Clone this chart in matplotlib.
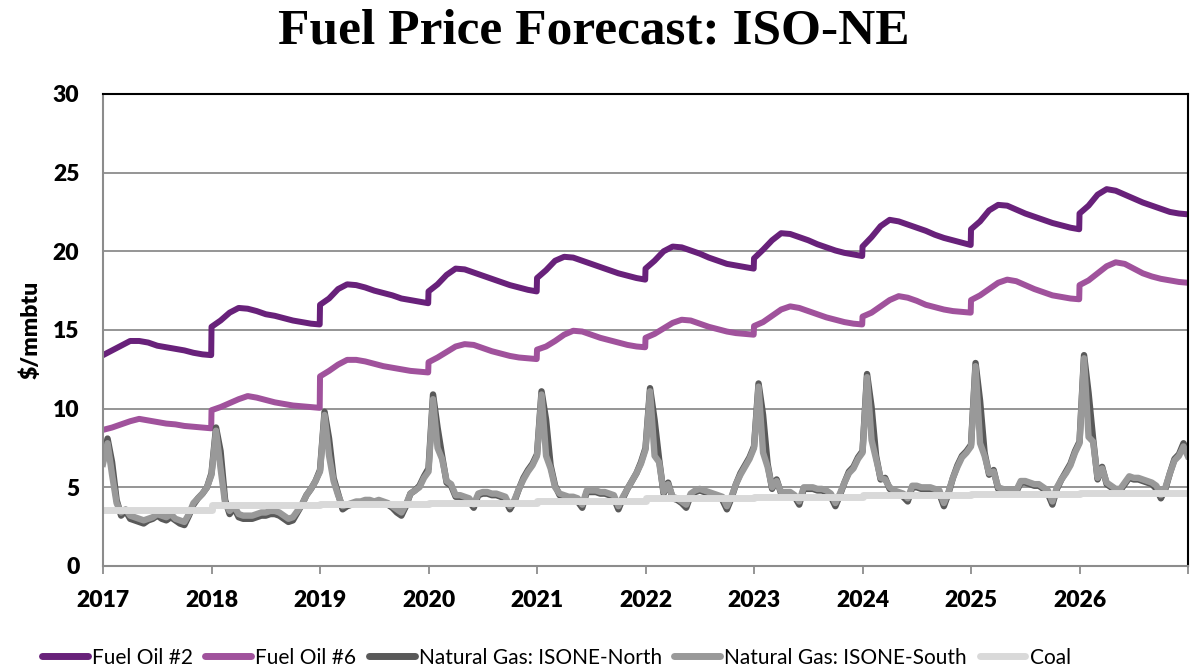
import numpy as np
import matplotlib
matplotlib.use('Agg')
import matplotlib.pyplot as plt

years = list(range(2017, 2027))
series_names = ['Fuel Oil #2', 'Fuel Oil #6', 'Natural Gas: ISONE-North',
                'Natural Gas: ISONE-South', 'Coal']

# fuel oils: monthly values (Jan 1 ... Dec 1) plus a Dec 31 value, one row per year
fuel_oil_2 = [
    13.4, 13.7, 14.0, 14.3, 14.3, 14.2, 14.0, 13.9, 13.8, 13.7, 13.55, 13.45, 13.4,   # 2017
    15.2, 15.6, 16.1, 16.4, 16.35, 16.2, 16.0, 15.9, 15.75, 15.6, 15.5, 15.4, 15.35,  # 2018
    16.6, 17.0, 17.6, 17.9, 17.85, 17.7, 17.5, 17.35, 17.2, 17.0, 16.9, 16.8, 16.7,   # 2019
    17.45, 17.9, 18.5, 18.9, 18.85, 18.65, 18.45, 18.25, 18.05, 17.85, 17.7, 17.55, 17.45,  # 2020
    18.3, 18.8, 19.4, 19.65, 19.6, 19.4, 19.2, 19.0, 18.8, 18.6, 18.45, 18.3, 18.2,   # 2021
    18.9, 19.4, 20.0, 20.3, 20.25, 20.05, 19.85, 19.6, 19.4, 19.2, 19.1, 19.0, 18.9,  # 2022
    19.55, 20.1, 20.7, 21.15, 21.1, 20.9, 20.7, 20.45, 20.25, 20.05, 19.9, 19.8, 19.7,  # 2023
    20.3, 20.9, 21.6, 22.0, 21.9, 21.7, 21.5, 21.3, 21.05, 20.85, 20.7, 20.55, 20.4,  # 2024
    21.4, 21.9, 22.6, 22.95, 22.9, 22.65, 22.4, 22.2, 22.0, 21.8, 21.65, 21.5, 21.4,  # 2025
    22.4, 22.9, 23.6, 23.95, 23.85, 23.6, 23.35, 23.1, 22.9, 22.7, 22.5, 22.4, 22.35,  # 2026
]
fuel_oil_6 = [
    8.65, 8.8, 9.0, 9.2, 9.35, 9.25, 9.15, 9.05, 9.0, 8.9, 8.85, 8.8, 8.75,           # 2017
    9.9, 10.1, 10.35, 10.6, 10.8, 10.7, 10.55, 10.4, 10.3, 10.2, 10.15, 10.1, 10.05,  # 2018
    12.05, 12.4, 12.8, 13.1, 13.1, 13.0, 12.85, 12.7, 12.6, 12.5, 12.4, 12.35, 12.3,  # 2019
    12.95, 13.25, 13.6, 13.95, 14.1, 14.05, 13.85, 13.65, 13.5, 13.35, 13.25, 13.2, 13.15,  # 2020
    13.75, 13.95, 14.3, 14.7, 14.95, 14.9, 14.7, 14.5, 14.35, 14.2, 14.05, 13.95, 13.9,  # 2021
    14.5, 14.75, 15.1, 15.45, 15.65, 15.6, 15.4, 15.2, 15.05, 14.9, 14.8, 14.75, 14.7,  # 2022
    15.25, 15.5, 15.9, 16.3, 16.5, 16.4, 16.2, 16.0, 15.8, 15.65, 15.5, 15.4, 15.35,  # 2023
    15.85, 16.1, 16.5, 16.9, 17.15, 17.05, 16.85, 16.6, 16.45, 16.3, 16.2, 16.15, 16.1,  # 2024
    16.9, 17.2, 17.6, 18.0, 18.2, 18.1, 17.85, 17.6, 17.4, 17.2, 17.1, 17.0, 16.95,   # 2025
    17.85, 18.15, 18.6, 19.05, 19.3, 19.2, 18.9, 18.6, 18.4, 18.25, 18.15, 18.05, 18.0,  # 2026
]

# natural gas: twice a month (1st and 16th), one row per year, last value = end of 2026
gas_north = [
    6.8, 8.1, 6.6, 4.2, 3.2, 3.5, 3.0, 2.9, 2.8, 2.7, 2.9, 3.0, 3.2, 3.0, 2.9, 3.1, 2.9, 2.7, 2.6, 3.2, 3.9, 4.3, 4.6, 5.0,
    5.9, 8.8, 7.3, 4.2, 3.3, 3.7, 3.1, 3.0, 3.0, 3.0, 3.1, 3.2, 3.2, 3.3, 3.3, 3.2, 3.0, 2.8, 2.9, 3.4, 3.9, 4.5, 4.9, 5.4,
    6.1, 9.8, 8.1, 5.6, 4.6, 3.6, 3.8, 3.9, 4.0, 4.0, 4.1, 4.1, 4.0, 4.1, 4.0, 3.9, 3.7, 3.4, 3.2, 3.8, 4.6, 4.8, 5.1, 5.7,
    6.2, 10.9, 8.8, 7.0, 5.3, 5.1, 4.4, 4.4, 4.3, 4.1, 3.7, 4.5, 4.6, 4.6, 4.5, 4.5, 4.4, 4.2, 3.6, 4.1, 4.9, 5.6, 6.1, 6.5,
    7.1, 11.1, 9.3, 6.4, 5.1, 4.5, 4.4, 4.3, 4.3, 4.1, 3.7, 4.7, 4.7, 4.7, 4.6, 4.6, 4.5, 4.3, 3.6, 4.3, 4.9, 5.4, 5.9, 6.6,
    7.5, 11.3, 9.3, 6.8, 4.6, 5.3, 4.3, 4.2, 4.0, 3.7, 4.5, 4.7, 4.8, 4.7, 4.6, 4.5, 4.4, 4.2, 3.6, 4.3, 5.2, 5.9, 6.4, 6.9,
    7.6, 11.6, 9.6, 6.5, 4.9, 5.5, 4.6, 4.6, 4.6, 4.4, 3.9, 4.9, 4.9, 4.9, 4.8, 4.8, 4.7, 4.4, 3.8, 4.5, 5.3, 6.0, 6.3, 6.9,
    7.3, 12.2, 10.1, 7.0, 5.5, 5.6, 4.9, 4.7, 4.6, 4.4, 4.1, 5.0, 5.0, 4.9, 4.9, 4.9, 4.8, 4.6, 3.8, 4.6, 5.6, 6.4, 7.0, 7.3,
    7.7, 12.9, 10.5, 7.2, 5.8, 6.1, 4.9, 4.8, 4.7, 4.7, 4.7, 5.3, 5.3, 5.2, 5.1, 5.1, 4.9, 4.6, 3.9, 4.9, 5.5, 6.0, 6.5, 7.3,
    7.9, 13.4, 11.0, 8.1, 5.5, 6.3, 5.2, 5.0, 4.8, 4.8, 5.2, 5.6, 5.5, 5.5, 5.4, 5.3, 5.2, 4.9, 4.3, 4.9, 5.9, 6.8, 7.1, 7.8,
    7.3,
]
gas_south = [
    6.5, 7.8, 5.8, 4.0, 3.4, 3.6, 3.2, 3.1, 3.0, 2.9, 3.0, 3.1, 3.3, 3.2, 3.1, 3.3, 3.0, 2.9, 2.8, 3.3, 4.0, 4.3, 4.6, 5.0,
    5.8, 8.6, 6.2, 4.0, 3.5, 3.8, 3.3, 3.2, 3.2, 3.2, 3.3, 3.4, 3.4, 3.5, 3.5, 3.4, 3.2, 3.0, 3.1, 3.5, 3.9, 4.5, 4.9, 5.4,
    6.0, 9.6, 7.0, 5.4, 4.5, 3.8, 3.9, 4.0, 4.1, 4.1, 4.2, 4.2, 4.1, 4.2, 4.1, 4.0, 3.8, 3.6, 3.4, 3.9, 4.6, 4.8, 5.0, 5.6,
    6.0, 10.6, 7.5, 6.8, 5.4, 5.2, 4.5, 4.5, 4.4, 4.3, 3.9, 4.6, 4.7, 4.7, 4.6, 4.6, 4.5, 4.4, 3.8, 4.2, 4.9, 5.5, 6.0, 6.4,
    7.0, 10.9, 7.0, 6.2, 5.0, 4.6, 4.5, 4.4, 4.4, 4.3, 3.9, 4.8, 4.8, 4.8, 4.7, 4.7, 4.6, 4.5, 3.8, 4.4, 4.9, 5.4, 5.9, 6.5,
    7.4, 11.1, 7.0, 6.6, 4.7, 5.2, 4.4, 4.3, 4.1, 3.9, 4.6, 4.8, 4.9, 4.8, 4.7, 4.6, 4.5, 4.4, 3.8, 4.4, 5.2, 5.8, 6.3, 6.8,
    7.5, 11.4, 7.2, 6.3, 5.0, 5.4, 4.7, 4.7, 4.7, 4.5, 4.1, 5.0, 5.0, 5.0, 4.9, 4.9, 4.8, 4.6, 4.0, 4.6, 5.3, 5.9, 6.2, 6.8,
    7.2, 12.0, 8.0, 6.8, 5.6, 5.5, 5.0, 4.8, 4.7, 4.6, 4.3, 5.1, 5.1, 5.0, 5.0, 5.0, 4.9, 4.8, 4.0, 4.7, 5.6, 6.3, 6.9, 7.2,
    7.6, 12.7, 7.8, 7.0, 5.9, 6.0, 5.0, 4.9, 4.8, 4.8, 4.8, 5.4, 5.4, 5.3, 5.2, 5.2, 5.0, 4.8, 4.1, 5.0, 5.5, 5.9, 6.4, 7.2,
    7.8, 13.2, 8.2, 7.9, 5.6, 6.2, 5.3, 5.1, 4.9, 4.9, 5.3, 5.7, 5.6, 5.6, 5.5, 5.4, 5.3, 5.1, 4.5, 5.0, 5.9, 6.7, 7.0, 7.6,
    7.0,
]

# coal: one value per year
coal = [3.55, 3.85, 3.95, 4.0, 4.15, 4.3, 4.4, 4.5, 4.6, 4.65]

colors = ['#68217a', '#a0529c', '#595959', '#999999', '#d9d9d9']

# x positions (fractional years)
oil_x = []
for y in years:
    oil_x += [y + m / 12 for m in range(12)] + [y + 0.997]
gas_x = [y + k / 24 for y in years for k in range(24)] + [2026.997]
coal_x = years + [2027]
coal_y = coal + [coal[-1]]

plt.rcParams['font.family'] = ['Lato', 'DejaVu Sans']

fig = plt.figure(figsize=(11.91, 6.71), dpi=100)
ax = fig.add_axes([0.0865, 0.1565, 0.9110, 0.7035])

ax.plot(oil_x, fuel_oil_2, color=colors[0], lw=4.3, label=series_names[0], solid_joinstyle='round')
ax.plot(oil_x, fuel_oil_6, color=colors[1], lw=4.3, label=series_names[1], solid_joinstyle='round')
ax.plot(gas_x, gas_north, color=colors[2], lw=4.6, label=series_names[2], solid_joinstyle='round')
ax.plot(gas_x, gas_south, color=colors[3], lw=4.6, label=series_names[3], solid_joinstyle='round')
ax.plot(coal_x, coal_y, color=colors[4], lw=5, label=series_names[4], drawstyle='steps-post')

ax.set_xlim(2017, 2027)
ax.set_ylim(0, 30)
ax.set_yticks(range(0, 31, 5))
ax.set_xticks(range(2017, 2028))
ax.set_xticklabels([str(y) for y in years] + [''])
ax.yaxis.grid(True, color='#8c8c8c', lw=1.3)
ax.set_axisbelow(True)

for side in ['left', 'bottom']:
    ax.spines[side].set_color('#8c8c8c')
    ax.spines[side].set_linewidth(1.5)
for side in ['top', 'right']:
    ax.spines[side].set_color('black')
    ax.spines[side].set_linewidth(1.5)

ax.tick_params(axis='x', length=6, width=1.3, color='#8c8c8c', pad=11,
               labelsize=16.5)
ax.tick_params(axis='y', length=0, pad=17, labelsize=16.5)
for lab in ax.get_xticklabels() + ax.get_yticklabels():
    lab.set_fontweight('heavy')

ax.set_ylabel(r'\$/mmbtu', fontsize=16.5, fontweight='heavy', labelpad=8)

fig.suptitle('Fuel Price Forecast: ISO-NE', x=0.499, y=0.988, va='top',
             fontsize=37, fontweight='bold', family='Liberation Serif')

leg = fig.legend(loc='center', bbox_to_anchor=(0.467, 0.02), ncol=5,
                 frameon=False, fontsize=15, handlelength=2.2,
                 handletextpad=0.2, columnspacing=0.6)
for line in leg.get_lines():
    line.set_linewidth(5)
    line.set_solid_capstyle('round')

fig.savefig('out.png', dpi=100)
